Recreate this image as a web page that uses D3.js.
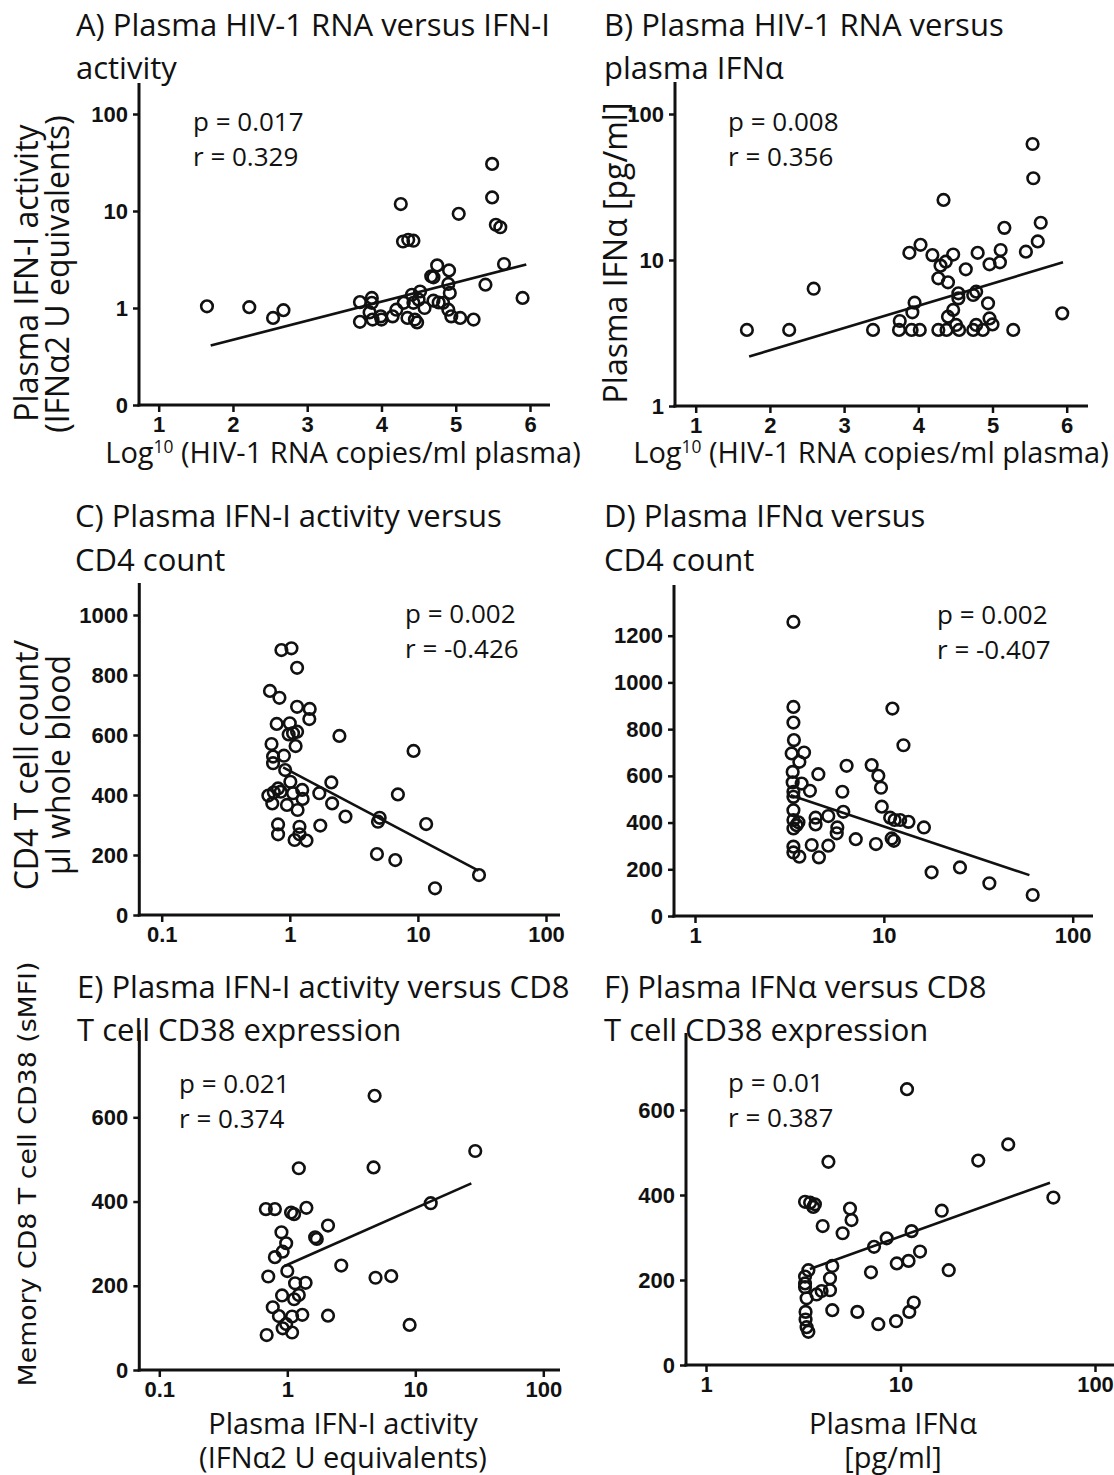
<!DOCTYPE html>
<html>
<head>
<meta charset="utf-8">
<script src="https://cdn.jsdelivr.net/npm/d3@7"></script>
<style>
body { margin: 0; background: #fff; }
</style>
</head>
<body>
<div id="chart"></div>
<script>
// A) log10 HIV-1 RNA vs plasma IFN-I activity
var hivA = [1.65,2.22,2.54,2.68,3.71,3.71,3.87,3.87,3.84,3.88,3.99,4.0,4.15,4.2,4.26,4.29,4.36,4.43,4.3,4.35,4.41,4.43,4.48,4.45,4.52,4.5,4.58,4.67,4.70,4.75,4.7,4.77,4.83,4.9,4.91,4.9,4.92,4.94,5.04,5.06,5.24,5.40,5.49,5.49,5.54,5.6,5.65,5.9];
var actA = [1.04,1.02,0.79,0.95,1.15,0.72,1.27,1.13,0.90,0.76,0.82,0.76,0.82,0.96,11.8,4.85,5.05,4.94,1.13,0.79,1.37,1.13,0.71,0.76,1.48,1.22,1.0,2.12,2.07,2.75,1.19,1.14,1.13,0.96,2.44,1.77,1.43,0.82,9.35,0.79,0.76,1.74,30.6,13.8,7.2,6.8,2.84,1.27];
var fitA_x = [1.7, 5.95], fitA_y = [0.41, 2.81];

// B) log10 HIV-1 RNA vs plasma IFNa
var hivB = [1.69,2.26,2.59,3.39,3.74,3.75,3.88,3.91,3.92,3.95,4.02,4.03,4.19,4.27,4.27,4.30,4.34,4.37,4.38,4.40,4.40,4.47,4.47,4.51,4.54,4.55,4.54,4.64,4.74,4.74,4.78,4.78,4.80,4.87,4.94,4.96,4.96,5.0,5.10,5.11,5.16,5.28,5.45,5.54,5.55,5.61,5.65,5.94];
var ifnB = [3.32,3.32,6.36,3.32,3.32,3.82,11.2,3.32,4.38,5.1,3.32,12.7,10.8,3.32,7.49,9.15,25.8,9.74,3.32,7.03,4.09,10.9,4.55,3.59,5.91,3.32,5.46,8.63,3.32,5.76,6.07,3.59,11.2,3.32,5.05,3.98,9.34,3.62,9.64,11.7,16.6,3.32,11.4,62.3,36.3,13.4,18.0,4.31];
var fitB_x = [1.72, 5.95], fitB_y = [2.18, 9.64];

// C) IFN-I activity vs CD4 count
var actC = [0.86,1.03,1.14,0.70,0.83,1.14,1.43,1.42,0.79,1.0,1.14,0.98,1.06,2.44,0.72,1.11,0.90,0.74,0.74,0.92,9.25,1.01,2.11,0.81,0.68,0.75,0.85,1.06,1.25,1.26,0.73,0.95,1.70,2.14,6.98,1.15,2.72,5.03,4.88,0.81,1.19,1.73,11.6,0.81,1.19,1.09,1.35,4.79,6.66,13.6,30.0];
var cd4C = [883,889,824,747,724,694,687,653,637,639,611,602,606,597,570,563,531,528,506,483,547,444,442,422,398,409,411,406,417,387,372,367,406,372,402,350,328,324,311,302,294,298,303,269,269,250,248,203,183,89,133];
var fitC_x = [0.887, 29.7], fitC_y = [492, 148];

// D) IFNa vs CD4 count
var ifnD = [3.32,3.32,3.32,3.34,3.25,3.78,3.57,3.29,3.29,3.67,3.32,3.32,4.06,4.50,3.32,3.32,3.53,3.32,3.45,4.35,4.35,5.08,6.03,6.35,6.10,5.67,5.63,7.10,8.62,9.35,9.66,9.75,9.08,5.08,4.15,3.32,3.32,3.57,4.53,11.1,12.7,10.8,11.4,12.2,13.5,11.0,11.3,16.3,17.9,25.3,36.2,61.4];
var cd4D = [1259,895,828,753,696,700,660,617,572,567,532,510,536,607,453,411,401,375,389,421,392,428,532,643,446,379,354,329,646,600,549,468,308,301,304,297,272,254,251,888,731,421,411,411,403,332,322,379,187,208,140,90];
var fitD_x = [3.21, 59.0], fitD_y = [517, 175];

// E) IFN-I activity vs CD8 CD38
var actE = [4.81,29.4,1.23,4.72,0.68,0.80,1.07,1.13,1.41,13.2,0.90,0.98,0.92,0.80,2.08,1.65,1.70,2.64,1.0,0.71,1.15,1.39,4.89,6.49,0.91,1.23,1.13,0.77,0.86,1.09,1.31,2.08,0.98,0.92,1.09,0.69,9.03];
var cd38E = [651,520,479,481,382,382,374,370,385,396,327,301,281,268,343,315,311,248,235,222,206,207,219,223,177,178,168,149,128,127,131,129,109,99,89,83,107];
var fitE_x = [0.953, 27.4], fitE_y = [247, 443];

// F) IFNa vs CD8 CD38
var ifnF = [10.8,4.26,35.8,25.1,61.1,3.23,3.43,3.63,3.56,5.5,5.6,3.98,5.04,16.3,11.4,8.49,7.31,12.6,11.0,9.57,7.05,17.7,4.46,4.34,4.34,3.36,3.23,3.23,3.23,3.29,3.70,3.93,4.46,6.0,7.69,9.49,11.1,11.7,3.25,3.25,3.29,3.36];
var cd38F = [649,478,519,481,394,384,382,378,372,368,341,327,310,363,315,298,278,267,245,239,218,223,233,204,176,223,208,192,183,157,166,174,129,125,96,103,125,147,125,107,89,78];
var fitF_x = [3.42, 58.7], fitF_y = [226, 429];

var ticksLog10 = [1,2,3,4,5,6];
var ticksActY = [0.1,1,10,100], labelsActY = ["0","1","10","100"];
var ticksIfnY = [1,10,100];
var ticksAct = [0.1,1,10,100], labelsAct = ["0.1","1","10","100"];
var ticksIfn = [1,10,100];
var ticksCd4C = [0,200,400,600,800,1000];
var ticksCd4D = [0,200,400,600,800,1000,1200];
var ticksCd38 = [0,200,400,600];

var statsP = ["p = 0.017","p = 0.008","p = 0.002","p = 0.002","p = 0.021","p = 0.01"];
var statsR = ["r = 0.329","r = 0.356","r = -0.426","r = -0.407","r = 0.374","r = 0.387"];

var W = 1114, H = 1475;
var svg = d3.select("#chart").append("svg")
    .attr("width", W)
    .attr("height", H)
    .style("background", "#fff");

var ink = "#111";

// text helper: parts is a string or a list of strings / {sup: ".."}
function txt(parts, x, y, o) {
    o = o || {};
    var size = o.size || 31;
    var g = svg.append("g")
        .attr("transform", "translate(" + x + "," + y + ")" + (o.rot ? " rotate(-90)" : ""));
    var t = g.append("text")
        .attr("font-family", o.family || "'Open Sans', 'Noto Sans', sans-serif")
        .attr("font-size", size)
        .attr("text-anchor", o.anchor || "start")
        .attr("fill", ink);
    if (typeof parts === "string") parts = [parts];
    var shifted = false;
    parts.forEach(function(p) {
        if (typeof p === "string") {
            t.append("tspan").attr("dy", shifted ? size * 0.36 : 0).text(p);
            shifted = false;
        } else {
            t.append("tspan").attr("font-size", size * 0.6).attr("dy", -size * 0.36).text(p.sup);
            shifted = true;
        }
    });
    if (o.width) {
        var w = t.node().getBBox().width;
        t.attr("transform", "scale(" + (o.width / w) + ",1)");
    }
    return t;
}

var panels = [
    { xs: d3.scaleLinear().domain([1,6]).range([158.7,530]),
      ys: d3.scaleLog().domain([0.1,100]).range([405,114]),
      ax: 139, ay: 405, xEnd: 550, yTop: 83,
      xTicks: ticksLog10, xLab: null, yTicks: ticksActY, yLab: labelsActY,
      xv: hivA, yv: actA, fx: fitA_x, fy: fitA_y, sx: 193, sy: 131 },
    { xs: d3.scaleLinear().domain([1,6]).range([695.7,1066.7]),
      ys: d3.scaleLog().domain([1,100]).range([406,114]),
      ax: 675, ay: 406, xEnd: 1088, yTop: 82,
      xTicks: ticksLog10, xLab: null, yTicks: ticksIfnY, yLab: null,
      xv: hivB, yv: ifnB, fx: fitB_x, fy: fitB_y, sx: 728, sy: 131 },
    { xs: d3.scaleLog().domain([0.1,100]).range([161.7,546]),
      ys: d3.scaleLinear().domain([0,1000]).range([915,615]),
      ax: 139.3, ay: 915, xEnd: 560, yTop: 583,
      xTicks: ticksAct, xLab: labelsAct, yTicks: ticksCd4C, yLab: null,
      xv: actC, yv: cd4C, fx: fitC_x, fy: fitC_y, sx: 405, sy: 623 },
    { xs: d3.scaleLog().domain([1,100]).range([695,1072.7]),
      ys: d3.scaleLinear().domain([0,1200]).range([916,635.7]),
      ax: 674, ay: 916, xEnd: 1093, yTop: 585,
      xTicks: ticksIfn, xLab: null, yTicks: ticksCd4D, yLab: null,
      xv: ifnD, yv: cd4D, fx: fitD_x, fy: fitD_y, sx: 937, sy: 624 },
    { xs: d3.scaleLog().domain([0.1,100]).range([159.3,543.3]),
      ys: d3.scaleLinear().domain([0,600]).range([1370,1117.3]),
      ax: 139.3, ay: 1370, xEnd: 560, yTop: 1030,
      xTicks: ticksAct, xLab: labelsAct, yTicks: ticksCd38, yLab: null,
      xv: actE, yv: cd38E, fx: fitE_x, fy: fitE_y, sx: 179, sy: 1093 },
    { xs: d3.scaleLog().domain([1,100]).range([706,1095]),
      ys: d3.scaleLinear().domain([0,600]).range([1365,1110]),
      ax: 686, ay: 1365, xEnd: 1114, yTop: 1033,
      xTicks: ticksIfn, xLab: null, yTicks: ticksCd38, yLab: null,
      xv: ifnF, yv: cd38F, fx: fitF_x, fy: fitF_y, sx: 728, sy: 1092 }
];

panels.forEach(function(p, i) {
    var g = svg.append("g");

    var xAxis = d3.axisBottom(p.xs).tickValues(p.xTicks).tickSize(7).tickPadding(4)
        .tickFormat(function(d, k) { return p.xLab ? p.xLab[k] : String(d); });
    var yAxis = d3.axisLeft(p.ys).tickValues(p.yTicks).tickSize(6).tickPadding(5)
        .tickFormat(function(d, k) { return p.yLab ? p.yLab[k] : String(d); });

    g.append("g").attr("transform", "translate(0," + p.ay + ")").call(xAxis);
    g.append("g").attr("transform", "translate(" + p.ax + ",0)").call(yAxis);
    g.selectAll(".domain").remove();
    g.selectAll(".tick line").attr("stroke", ink).attr("stroke-width", 2.5);
    g.selectAll(".tick text")
        .attr("fill", ink)
        .attr("font-family", "'Liberation Sans', Arial, sans-serif")
        .attr("font-weight", "bold")
        .attr("font-size", 22);

    g.append("line")
        .attr("x1", p.ax - 1.5).attr("x2", p.xEnd)
        .attr("y1", p.ay).attr("y2", p.ay)
        .attr("stroke", ink).attr("stroke-width", 3);
    g.append("line")
        .attr("x1", p.ax).attr("x2", p.ax)
        .attr("y1", p.ay + 1.5).attr("y2", p.yTop)
        .attr("stroke", ink).attr("stroke-width", 3);

    g.append("line")
        .attr("x1", p.xs(p.fx[0])).attr("y1", p.ys(p.fy[0]))
        .attr("x2", p.xs(p.fx[1])).attr("y2", p.ys(p.fy[1]))
        .attr("stroke", ink).attr("stroke-width", 2.6);

    g.selectAll("circle").data(p.xv).enter().append("circle")
        .attr("cx", function(d) { return p.xs(d); })
        .attr("cy", function(d, k) { return p.ys(p.yv[k]); })
        .attr("r", 5.8)
        .attr("fill", "none")
        .attr("stroke", ink)
        .attr("stroke-width", 2.6);

    txt(statsP[i], p.sx, p.sy, { size: 26 });
    txt(statsR[i], p.sx, p.sy + 35, { size: 26 });
});

// panel titles
txt("A) Plasma HIV-1 RNA versus IFN-I", 76, 36);
txt("activity", 76, 79);
txt("B) Plasma HIV-1 RNA versus", 604, 36);
txt("plasma IFNα", 604, 79);
txt("C) Plasma IFN-I activity versus", 75, 527);
txt("CD4 count", 75, 571);
txt("D) Plasma IFNα versus", 604, 527);
txt("CD4 count", 604, 571);
txt("E) Plasma IFN-I activity versus CD8", 77, 998);
txt("T cell CD38 expression", 77, 1041);
txt("F) Plasma IFNα versus CD8", 604, 998);
txt("T cell CD38 expression", 604, 1041);

// axis titles
txt("Plasma IFN-I activity", 38, 273, { rot: true, anchor: "middle", size: 32 });
txt("(IFNα2 U equivalents)", 69, 274, { rot: true, anchor: "middle", size: 32 });
txt(["Log", { sup: "10" }, " (HIV-1 RNA copies/ml plasma)"], 343, 463, { anchor: "middle", size: 29 });

txt("Plasma IFNα [pg/ml]", 627, 253, { rot: true, anchor: "middle", size: 32 });
txt(["Log", { sup: "10" }, " (HIV-1 RNA copies/ml plasma)"], 871, 463, { anchor: "middle", size: 29 });

txt("CD4 T cell count/", 38, 765, { rot: true, anchor: "middle", size: 32 });
txt("µl whole blood", 70, 765, { rot: true, anchor: "middle", size: 32 });

txt("Memory CD8 T cell CD38 (sMFI)", 36, 1174, { rot: true, anchor: "middle", size: 24,
    family: "'DejaVu Sans', Verdana, sans-serif", width: 425 });
txt("Plasma IFN-I activity", 343, 1434, { anchor: "middle", size: 29 });
txt("(IFNα2 U equivalents)", 343, 1468, { anchor: "middle", size: 29 });
txt("Plasma IFNα", 893, 1434, { anchor: "middle", size: 29 });
txt("[pg/ml]", 893, 1468, { anchor: "middle", size: 29 });
</script>
</body>
</html>
